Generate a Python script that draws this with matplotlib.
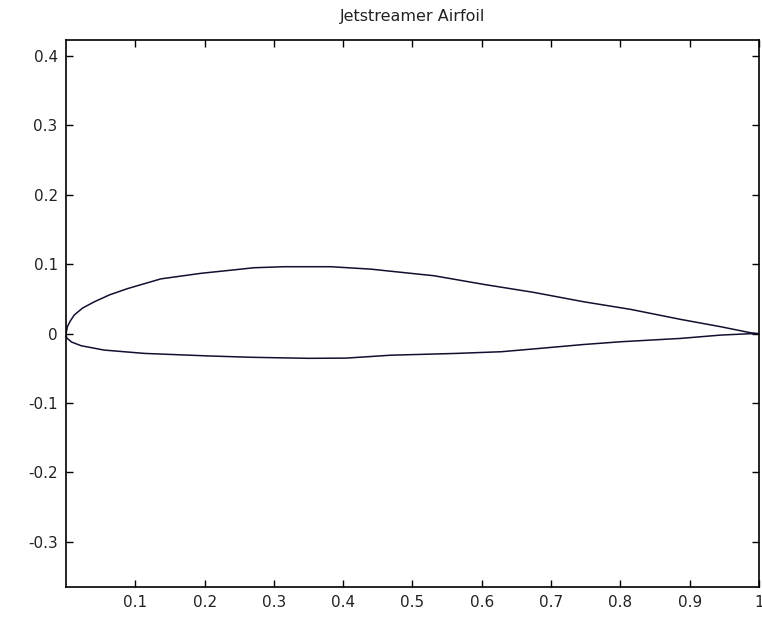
import matplotlib.pyplot as plt

# upper surface, leading edge to trailing edge
upper_x = [0.0, 0.002, 0.006, 0.012, 0.024, 0.041, 0.063, 0.089, 0.137, 0.195, 0.243, 0.271, 0.315, 0.382,
           0.440, 0.478, 0.531, 0.603, 0.675, 0.747, 0.815, 0.887, 0.945, 0.988, 1.0]
upper_y = [0.0, 0.010, 0.018, 0.027, 0.037, 0.046, 0.056, 0.065, 0.079, 0.087, 0.092, 0.095, 0.0965, 0.0965,
           0.093, 0.089, 0.0835, 0.071, 0.0595, 0.046, 0.035, 0.0206, 0.010, 0.0013, 0.0]

# lower surface
lower_x = [0.0, 0.001, 0.008, 0.022, 0.055, 0.113, 0.204, 0.267, 0.35, 0.404, 0.469,
           0.564, 0.628, 0.686, 0.748, 0.801, 0.887, 0.945, 0.988, 1.0]
lower_y = [0.0, -0.006, -0.012, -0.0174, -0.0236, -0.0284, -0.032, -0.034, -0.0355, -0.0352, -0.031,
           -0.0284, -0.026, -0.021, -0.0155, -0.0116, -0.0068, -0.002, 0.0, 0.0]

xticks = [0.1, 0.2, 0.3, 0.4, 0.5, 0.6, 0.7, 0.8, 0.9, 1]
xticklabels = ['0.1', '0.2', '0.3', '0.4', '0.5', '0.6', '0.7', '0.8', '0.9', '1']
yticks = [-0.3, -0.2, -0.1, 0, 0.1, 0.2, 0.3, 0.4]
yticklabels = ['-0.3', '-0.2', '-0.1', '0', '0.1', '0.2', '0.3', '0.4']

plt.rcParams['font.family'] = ['DejaVu Sans']

fig = plt.figure(figsize=(7.62, 6.17), dpi=100)
ax = fig.add_axes([0.0866, 0.0486, 0.9094, 0.8864])

ax.plot(upper_x, upper_y, color='#101030', linewidth=1.1)
ax.plot(lower_x, lower_y, color='#101030', linewidth=1.1)

ax.set_xlim(0, 1)
ax.set_ylim(-0.365, 0.423)
ax.set_xticks(xticks)
ax.set_xticklabels(xticklabels)
ax.set_yticks(yticks)
ax.set_yticklabels(yticklabels)
ax.tick_params(direction='in', length=5, width=1, top=True, right=True,
               labelsize=11, pad=6, labelcolor='#222222')
for s in ax.spines.values():
    s.set_linewidth(1.2)

ax.set_title('Jetstreamer Airfoil', fontsize=11.5, pad=14, color='#222222')

fig.savefig('out.png', dpi=100)
